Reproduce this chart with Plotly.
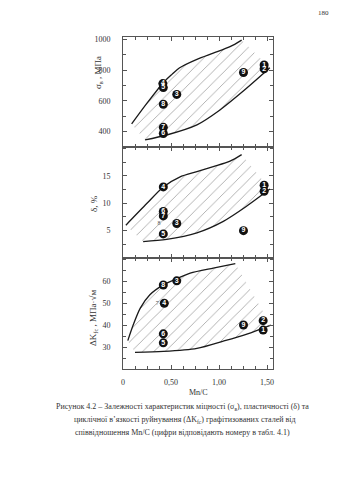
import plotly.graph_objects as go

# ---- data ----
pt_labels = ["1", "2", "3", "4", "5", "6", "7", "8", "9"]

sig_x = [1.47, 1.47, 0.56, 0.415, 0.42, 0.42, 0.42, 0.42, 1.255]
sig_y = [833, 808, 642, 712, 686, 388, 428, 578, 784]

del_lab = ["1", "2", "3", "4", "5", "6", "7", "9"]
del_x = [1.47, 1.47, 0.56, 0.42, 0.42, 0.42, 0.42, 1.255]
del_y = [13.3, 12.2, 6.3, 13.0, 4.4, 8.5, 7.7, 5.0]
del_plain_lab = ["8"]
del_plain_x = [0.375]
del_plain_y = [6.3]

dk_lab = ["1", "2", "3", "4", "5", "6", "8", "9"]
dk_x = [1.46, 1.46, 0.56, 0.43, 0.42, 0.42, 0.42, 1.255]
dk_y = [37.7, 42.0, 60.1, 49.9, 31.9, 36.0, 58.2, 40.0]
dk_plain_lab = ["7"]
dk_plain_x = [0.357]
dk_plain_y = [50.0]

sig_up_x = [0.09, 0.25, 0.42, 0.51, 0.59, 0.77, 0.94, 1.115, 1.236]
sig_up_y = [450, 585, 718, 772, 815, 870, 910, 952, 995]
sig_lo_x = [0.23, 0.455, 0.77, 1.01, 1.25, 1.53]
sig_lo_y = [346, 378, 444, 541, 662, 815]

del_up_x = [0.03, 0.25, 0.42, 0.59, 0.77, 0.94, 1.115, 1.236]
del_up_y = [6.0, 10.0, 13.0, 14.8, 15.8, 16.7, 17.7, 18.9]
del_lo_x = [0.21, 0.455, 0.77, 1.045, 1.29, 1.53]
del_lo_y = [3.0, 3.4, 4.6, 6.7, 9.5, 12.6]

dk_up_x = [0.05, 0.107, 0.18, 0.28, 0.42, 0.556, 0.70, 0.94, 1.17]
dk_up_y = [32.9, 40.1, 47.7, 53.8, 58.3, 61.0, 63.6, 65.9, 67.9]
dk_lo_x = [0.125, 0.42, 0.77, 1.045, 1.29, 1.54]
dk_lo_y = [27.6, 28.0, 29.4, 32.7, 35.9, 40.0]

x_ticks = [0, 0.5, 1.0, 1.5]
x_ticktext = ["0", "0,50", "1,00", "1,50"]

SERIF = "Liberation Serif, Times New Roman, serif"
LINE_C = "#1a1a1a"
AX_C = "#555555"
TXT_C = "#333333"

fig = go.Figure()


def add_panel(xa, ya, ux, uy, lx, ly, px, py, plab, tx=None, ty=None, tlab=None):
    fig.add_trace(go.Scatter(x=lx, y=ly, mode="lines",
                             line=dict(color=LINE_C, width=1.3, shape="spline", smoothing=0.8),
                             xaxis=xa, yaxis=ya, showlegend=False, hoverinfo="skip"))
    fig.add_trace(go.Scatter(x=ux, y=uy, mode="lines",
                             line=dict(color=LINE_C, width=1.3, shape="spline", smoothing=0.8),
                             fill="tonexty", fillcolor="rgba(0,0,0,0)",
                             fillpattern=dict(shape="/", fgcolor="#a0a0a0", bgcolor="rgba(0,0,0,0)",
                                              size=8, solidity=0.1),
                             xaxis=xa, yaxis=ya, showlegend=False, hoverinfo="skip"))
    fig.add_trace(go.Scatter(x=px, y=py, mode="markers+text", text=plab, textposition="middle center",
                             marker=dict(color="#111111", size=9, line=dict(width=0)),
                             textfont=dict(color="#ffffff", size=7, weight="bold",
                                           family="Liberation Sans, Arial, sans-serif"),
                             xaxis=xa, yaxis=ya, showlegend=False))
    if tx is not None:
        fig.add_trace(go.Scatter(x=tx, y=ty, mode="text", text=tlab, textposition="middle center",
                                 textfont=dict(color="#555555", size=6, family=SERIF),
                                 xaxis=xa, yaxis=ya, showlegend=False))


add_panel("x", "y", sig_up_x, sig_up_y, sig_lo_x, sig_lo_y, sig_x, sig_y, pt_labels)
add_panel("x2", "y2", del_up_x, del_up_y, del_lo_x, del_lo_y, del_x, del_y, del_lab,
          del_plain_x, del_plain_y, del_plain_lab)
add_panel("x3", "y3", dk_up_x, dk_up_y, dk_lo_x, dk_lo_y, dk_x, dk_y, dk_lab,
          dk_plain_x, dk_plain_y, dk_plain_lab)

W, H = 339, 480
xdom = [123 / W, 273 / W]


def ydom(top, bot):
    return [1 - bot / H, 1 - top / H]


common_x = dict(domain=xdom, range=[0, 1.5625], showgrid=False, zeroline=False, showline=True,
                linecolor=AX_C, linewidth=1, mirror="ticks", ticks="inside", ticklen=4,
                tickcolor=AX_C, tickvals=x_ticks, ticktext=x_ticktext,
                minor=dict(dtick=0.125, tick0=0, ticks="inside", ticklen=3, tickcolor=AX_C),
                tickfont=dict(family=SERIF, size=8, color=TXT_C))
common_y = dict(showgrid=False, zeroline=False, showline=True, linecolor=AX_C, linewidth=1,
                mirror="ticks", ticks="inside", ticklen=4, tickcolor=AX_C,
                tickfont=dict(family=SERIF, size=8, color=TXT_C), ticklabelstandoff=10)

fig.update_layout(
    template="none",
    width=W, height=H, margin=dict(l=0, r=0, t=0, b=0),
    paper_bgcolor="white", plot_bgcolor="white",
    font=dict(family=SERIF, color=TXT_C),
    xaxis=dict(common_x, anchor="y", showticklabels=False),
    xaxis2=dict(common_x, anchor="y2", showticklabels=False),
    xaxis3=dict(common_x, anchor="y3", showticklabels=True, ticklabelstandoff=5),
    yaxis=dict(common_y, domain=ydom(37, 147), anchor="x", range=[300, 1015],
               tickvals=[400, 600, 800, 1000],
               minor=dict(dtick=100, tick0=0, ticks="inside", ticklen=3, tickcolor=AX_C)),
    yaxis2=dict(common_y, domain=ydom(147, 258), anchor="x2", range=[0, 20.3],
                tickvals=[5, 10, 15],
                minor=dict(dtick=2.5, tick0=0, ticks="inside", ticklen=3, tickcolor=AX_C)),
    yaxis3=dict(common_y, domain=ydom(258, 369), anchor="x3", range=[20, 70.5],
                tickvals=[30, 40, 50, 60],
                minor=dict(dtick=5, tick0=0, ticks="inside", ticklen=3, tickcolor=AX_C)),
)


def ann(text, x, y, size=9, angle=0):
    fig.add_annotation(text=text, x=x / W, y=1 - y / H, xref="paper", yref="paper",
                       showarrow=False, textangle=angle, xanchor="center", yanchor="middle",
                       font=dict(family=SERIF, size=size, color=TXT_C))


ann("σ<sub>в</sub> , МПа", 98, 73, 9, -90)
ann("δ, %", 94, 204, 9, -90)
ann("ΔK<sub>fc</sub> , МПа·√м", 93, 318, 9, -90)
ann("Mn/C", 198, 392, 8)
ann("Рисунок 4.2 – Залежності характеристик міцності (σ<sub>в</sub>), пластичності (δ) та", 182, 407, 8)
ann("циклічної в’язкості руйнування (ΔK<sub>fc</sub>) графітизованих сталей від", 185, 420, 8)
ann("співвідношення Mn/C (цифри відповідають номеру в табл. 4.1)", 183, 432, 8)
ann("180", 323, 13, 7)

fig.write_html("out.html")
